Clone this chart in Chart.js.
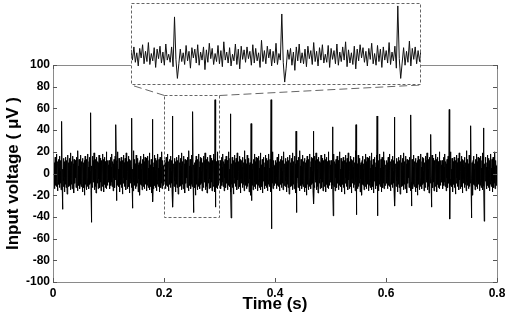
<!DOCTYPE html>
<html>
<head>
<meta charset="utf-8">
<script src="https://cdn.jsdelivr.net/npm/chart.js@4.4.0/dist/chart.umd.min.js"></script>
<style>
  body { margin: 0; background: #fff; }
  #wrap { position: relative; width: 510px; height: 319px; }
  #mainChart { position: absolute; left: 0; top: 0; }
  #insetChart { position: absolute; left: 131px; top: 3px; background: #fff; }
</style>
</head>
<body>
<div id="wrap">
  <canvas id="mainChart" width="510" height="319"></canvas>
  <canvas id="insetChart" width="290" height="82"></canvas>
</div>
<script>
// sampling interval of the trace (s)
const sampleStep = 0.0005;
const traceEnd = 0.8;

// background noise for one 0.1 s window (uV)
const noise = [
  8, -6, 12, -9, 4, -14, 10, -3, 15, -11, 6, -8, 18, -12, 3, -7, 11, -16, 9, -4,
  13, -10, 5, -13, 16, -6, 2, -9, 12, -15, 7, -5, 20, -11, 9, -8, 4, -12, 14, -7,
  6, -17, 11, -3, 9, -10, 15, -13, 5, -6, 12, -19, 8, -9, 17, -4, 10, -12, 3, -8,
  14, -11, 7, -15, 19, -6, 5, -10, 11, -14, 2, -7, 16, -12, 9, -18, 13, -5, 8, -9,
  12, -4, 6, -13, 15, -10, 10, -7, 4, -16, 21, -8, 7, -11, 13, -3, 9, -14, 6, -10,
  17, -12, 3, -6, 11, -9, 14, -17, 8, -5, 10, -13, 5, -20, 12, -7, 16, -10, 4, -11,
  9, -15, 13, -4, 7, -12, 18, -8, 6, -14, 11, -6, 15, -10, 2, -9, 14, -16, 10, -5,
  7, -11, 16, -13, 5, -8, 12, -6, 19, -15, 8, -10, 4, -12, 13, -18, 9, -7, 15, -3,
  11, -9, 6, -14, 10, -5, 17, -11, 3, -13, 14, -8, 9, -16, 12, -6, 7, -10, 18, -12,
  5, -7, 13, -17, 8, -4, 15, -10, 11, -13, 6, -9, 20, -14, 10, -5, 12, -11, 7, -8
];

// spikes: time (s), peak and following dip (uV)
const spikeTimes = [0.016, 0.068, 0.1135, 0.142, 0.179, 0.215, 0.252, 0.292, 0.320, 0.357, 0.393,
  0.438, 0.469, 0.504, 0.546, 0.584, 0.615, 0.645, 0.681, 0.714, 0.753, 0.776];
const spikePeaks = [48, 56, 45, 51, 50, 53, 57, 68, 55, 46, 68, 39, 39, 43, 45, 53, 52, 54, 36, 59, 44, 42];
const spikeDips = [-33, -45, -25, -32, -26, -31, -36, -31, -41, -25, -51, -36, -28, -39, -38, -39, -30, -30, -31, -42, -41, -44];

const yTicks = [-100, -80, -60, -40, -20, 0, 20, 40, 60, 80, 100];
const xTicks = [0, 0.2, 0.4, 0.6, 0.8];

// zoomed region shown in the inset
const zoomX = [0.2, 0.3];
const zoomY = [-40, 72];
const insetBox = { left: 131, top: 3, width: 290, height: 82 };

// build the trace: the noise window repeated, spikes placed on top
const nSamples = Math.round(traceEnd / sampleStep) + 1;
const values = [];
for (let i = 0; i < nSamples; i++) {
  values.push(noise[i % noise.length]);
}
spikeTimes.forEach((t, k) => {
  const idx = Math.round(t / sampleStep);
  values[idx] = spikePeaks[k];
  if (idx + 2 < nSamples) values[idx + 2] = spikeDips[k];
});
const trace = values.map((v, i) => ({ x: i * sampleStep, y: v }));

const tickFont = { family: "Liberation Sans, Arial, sans-serif", size: 12, weight: "bold" };
const titleFont = { family: "Liberation Sans, Arial, sans-serif", size: 17, weight: "bold" };

// frame with inward ticks (matlab style) + zoom box + connector lines
const mainFramePlugin = {
  id: "mainFrame",
  afterDatasetsDraw(chart) {
    const ctx = chart.ctx;
    const a = chart.chartArea;
    const xs = chart.scales.x;
    const ys = chart.scales.y;
    ctx.save();
    ctx.strokeStyle = "#8a8a8a";
    ctx.lineWidth = 1;
    ctx.strokeRect(Math.round(a.left) + 0.5, Math.round(a.top) + 0.5,
      Math.round(a.right - a.left), Math.round(a.bottom - a.top));
    ctx.strokeStyle = "#555";
    ctx.beginPath();
    xTicks.forEach((v) => {
      const px = Math.round(xs.getPixelForValue(v)) + 0.5;
      ctx.moveTo(px, a.bottom); ctx.lineTo(px, a.bottom - 4);
      ctx.moveTo(px, a.top); ctx.lineTo(px, a.top + 4);
    });
    yTicks.forEach((v) => {
      const py = Math.round(ys.getPixelForValue(v)) + 0.5;
      ctx.moveTo(a.left, py); ctx.lineTo(a.left + 4, py);
      ctx.moveTo(a.right, py); ctx.lineTo(a.right - 4, py);
    });
    ctx.stroke();

    // zoom box
    const x0 = Math.round(xs.getPixelForValue(zoomX[0])) + 0.5;
    const x1 = Math.round(xs.getPixelForValue(zoomX[1])) + 0.5;
    const y0 = Math.round(ys.getPixelForValue(zoomY[1])) + 0.5;
    const y1 = Math.round(ys.getPixelForValue(zoomY[0])) + 0.5;
    ctx.strokeStyle = "#666";
    ctx.setLineDash([3, 2]);
    ctx.strokeRect(x0, y0, x1 - x0, y1 - y0);

    // connectors to the inset
    ctx.setLineDash([8, 4]);
    ctx.beginPath();
    ctx.moveTo(x0, y0);
    ctx.lineTo(insetBox.left, insetBox.top + insetBox.height);
    ctx.moveTo(x1, y0);
    ctx.lineTo(insetBox.left + insetBox.width, insetBox.top + insetBox.height);
    ctx.stroke();
    ctx.restore();
  },
};

new Chart(document.getElementById("mainChart"), {
  type: "line",
  data: {
    datasets: [{
      data: trace,
      borderColor: "#000",
      borderWidth: 1,
      pointRadius: 0,
      tension: 0,
    }],
  },
  options: {
    responsive: false,
    animation: false,
    events: [],
    layout: { padding: { top: 65, right: 13, left: 0, bottom: 0 } },
    plugins: { legend: { display: false }, tooltip: { enabled: false } },
    scales: {
      x: {
        type: "linear",
        min: 0,
        max: 0.8,
        grid: { display: false, drawTicks: false },
        border: { display: false },
        afterBuildTicks: (s) => { s.ticks = xTicks.map((v) => ({ value: v })); },
        afterFit: (s) => { s.height = 37; },
        ticks: { color: "#000", font: tickFont, padding: 4, maxRotation: 0 },
        title: { display: true, text: "Time (s)", color: "#000", font: titleFont, padding: { top: 0, bottom: 4 } },
      },
      y: {
        min: -100,
        max: 100,
        grid: { display: false, drawTicks: false },
        border: { display: false },
        afterBuildTicks: (s) => { s.ticks = yTicks.map((v) => ({ value: v })); },
        afterFit: (s) => { s.width = 53; },
        ticks: { color: "#000", font: tickFont, padding: 3 },
        title: { display: true, text: "Input voltage ( \u03bcV )", color: "#000", font: titleFont, padding: { top: 3, bottom: 0 } },
      },
    },
  },
  plugins: [mainFramePlugin],
});

const insetFramePlugin = {
  id: "insetFrame",
  afterDraw(chart) {
    const ctx = chart.ctx;
    ctx.save();
    ctx.strokeStyle = "#666";
    ctx.lineWidth = 1;
    ctx.setLineDash([3, 2]);
    ctx.strokeRect(0.5, 0.5, chart.width - 1, chart.height - 1);
    ctx.restore();
  },
};

new Chart(document.getElementById("insetChart"), {
  type: "line",
  data: {
    datasets: [{
      data: trace,
      borderColor: "#111",
      borderWidth: 1,
      pointRadius: 0,
      tension: 0,
    }],
  },
  options: {
    responsive: false,
    animation: false,
    events: [],
    layout: { padding: 0 },
    plugins: { legend: { display: false }, tooltip: { enabled: false } },
    scales: {
      x: { type: "linear", min: zoomX[0], max: zoomX[1], display: false },
      y: { min: zoomY[0], max: zoomY[1], display: false },
    },
  },
  plugins: [insetFramePlugin],
});
</script>
</body>
</html>
